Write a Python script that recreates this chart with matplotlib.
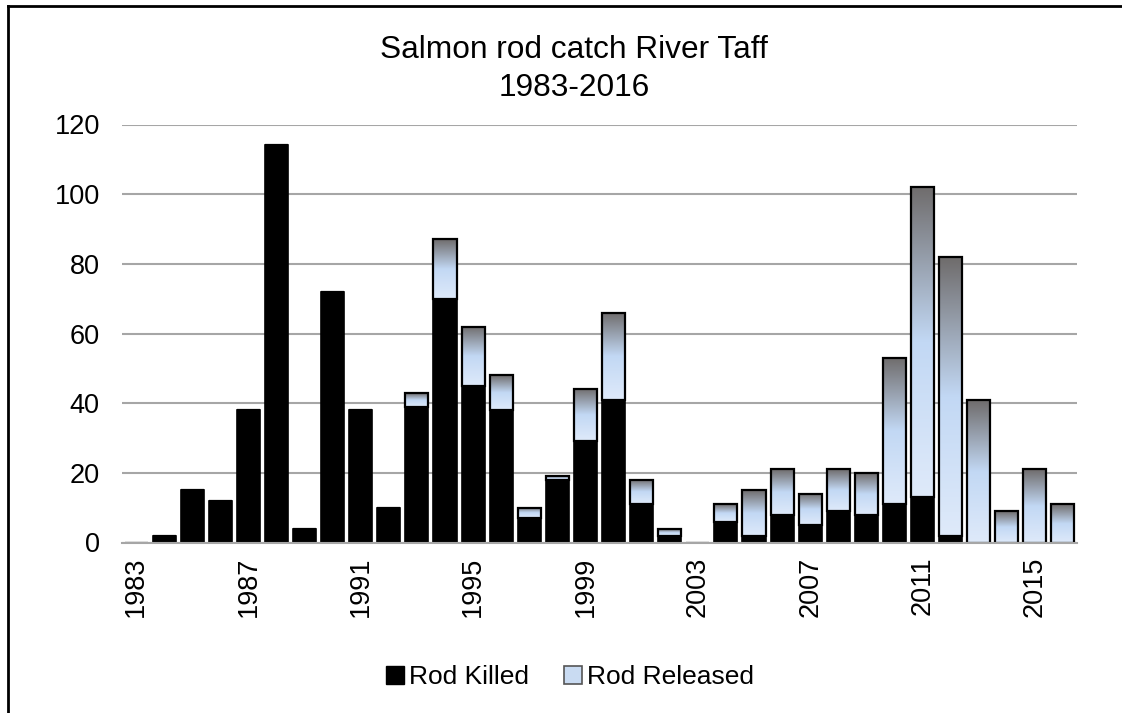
import numpy as np
import matplotlib
matplotlib.use("Agg")
import matplotlib.pyplot as plt
from matplotlib.colors import LinearSegmentedColormap
from matplotlib.patches import Patch

years = list(range(1983, 2017))
killed = [0, 2, 15, 12, 38, 114, 4, 72, 38, 10, 39, 70, 45, 38, 7, 18, 29, 41, 11, 2,
          0, 6, 2, 8, 5, 9, 8, 11, 13, 2, 0, 0, 0, 0]
total = [0, 2, 15, 12, 38, 114, 4, 72, 38, 10, 43, 87, 62, 48, 10, 19, 44, 66, 18, 4,
         0, 11, 15, 21, 14, 21, 20, 53, 102, 82, 41, 9, 21, 11]
released = [t - k for t, k in zip(total, killed)]
title = "Salmon rod catch River Taff\n1983-2016"
yticks = [0, 20, 40, 60, 80, 100, 120]

plt.rcParams['font.family'] = ['Liberation Sans', 'DejaVu Sans']

W, H = 1122, 713
fig = plt.figure(figsize=(W / 100, H / 100), dpi=100)
ax = fig.add_axes([122 / W, 1 - 542.5 / H, (1077 - 122) / W, (542.5 - 124.5) / H])

x = np.arange(len(years))
bw = 0.82
ax.bar(x, killed, width=bw, color='black', edgecolor='black', linewidth=1.2, zorder=3)
rel_bars = ax.bar(x, released, bottom=killed, width=bw, color='none',
                  edgecolor='black', linewidth=1.6, zorder=4)

cmap = LinearSegmentedColormap.from_list(
    'grad', [(0.0, '#dfeafa'), (0.5, '#c2d8f4'), (1.0, '#6f6c6c')])
grad = np.linspace(0, 1, 256).reshape(-1, 1)
for b, r in zip(rel_bars, released):
    if r <= 0:
        continue
    x0, y0 = b.get_x(), b.get_y()
    w, h = b.get_width(), b.get_height()
    im = ax.imshow(grad, cmap=cmap, origin='lower', aspect='auto',
                   extent=[x0, x0 + w, y0, y0 + h], zorder=3.5, interpolation='bilinear')
    im.set_clip_path(b)

ax.set_xlim(-0.5, len(years) - 0.5)
ax.set_ylim(0, 120)
ax.set_yticks(yticks)
ax.set_xticks(x[::4])
ax.set_xticklabels([str(y) for y in years[::4]], rotation=90)
ax.tick_params(axis='both', length=0, labelsize=19.5, colors='black')
ax.tick_params(axis='y', pad=16)
ax.tick_params(axis='x', pad=10)
ax.grid(axis='y', color='#a6a6a6', linewidth=1.5, zorder=0)
ax.set_axisbelow(True)
for s in ['top', 'right', 'left']:
    ax.spines[s].set_visible(False)
ax.spines['bottom'].set_color('#a6a6a6')
ax.spines['bottom'].set_linewidth(1.5)
ax.spines['bottom'].set_zorder(5)

fig.text(574 / W, 1 - 69 / H, title, ha='center', va='center', fontsize=22.8, linespacing=1.33)

handles = [Patch(facecolor='black', edgecolor='black'),
           Patch(facecolor='#c9dbf2', edgecolor='#555555', linewidth=1.2)]
fig.legend(handles, ['Rod Killed', 'Rod Released'], loc='center',
           bbox_to_anchor=(570 / W, 1 - 677 / H), ncol=2, frameon=False,
           fontsize=19, handlelength=0.7, handleheight=0.7, handletextpad=0.2,
           columnspacing=1.3)

# outer border (cropped at right/bottom)
fig.add_artist(plt.Line2D([7.5 / W, 7.5 / W], [0, 1 - 6 / H], color='black', linewidth=2,
                          transform=fig.transFigure))
fig.add_artist(plt.Line2D([7.5 / W, 1], [1 - 6 / H, 1 - 6 / H], color='black', linewidth=2,
                          transform=fig.transFigure))

fig.savefig('out.png', dpi=100, facecolor='white')
